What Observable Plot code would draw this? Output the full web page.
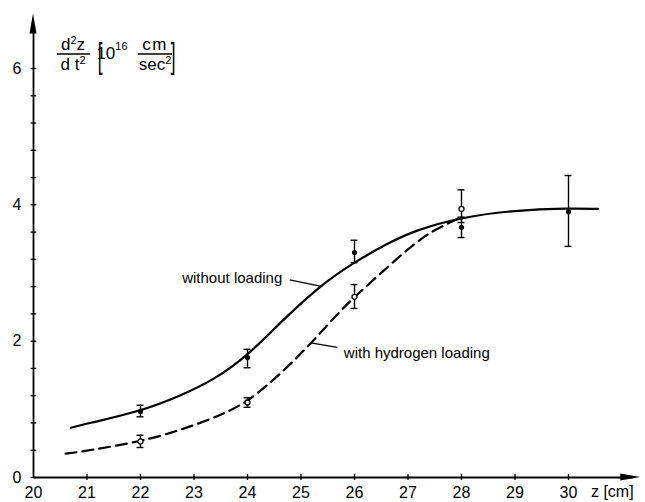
<!DOCTYPE html>
<html>
<head>
<meta charset="utf-8">
<script src="https://cdn.jsdelivr.net/npm/d3@7"></script>
<script src="https://cdn.jsdelivr.net/npm/@observablehq/plot@0.6"></script>
<style>
  body { margin: 0; background: #fff; }
  #chart svg { display: block; }
</style>
</head>
<body>
<div id="chart"></div>
<script>
// Axis ticks
const xTicks = [20, 21, 22, 23, 24, 25, 26, 27, 28, 29, 30];
const yTickLabels = [0, 2, 4, 6];
const yMinorTicks = [0, 0.4, 0.8, 1.2, 1.6, 2, 2.4, 2.8, 3.2, 3.6, 4, 4.4, 4.8, 5.2, 5.6, 6];

// Fitted curve, without loading (z in cm, d²z/dt² in 10^16 cm/sec²)
const fitPlainZ = [20.7, 21, 22, 22.75, 23.37, 24.02, 24.62, 25.36, 26, 26.61, 27.11, 28, 29, 30, 30.55];
const fitPlainA = [0.73, 0.79, 0.97, 1.20, 1.43, 1.80, 2.28, 2.82, 3.16, 3.43, 3.62, 3.82, 3.92, 3.95, 3.94];

// Fitted curve, with hydrogen loading
const fitH2Z = [20.6, 21, 22, 22.6, 23.12, 23.6, 24.02, 24.62, 25.18, 25.68, 26, 26.61, 27.11, 27.5, 27.95];
const fitH2A = [0.35, 0.39, 0.53, 0.66, 0.80, 0.95, 1.12, 1.52, 1.96, 2.40, 2.65, 3.08, 3.43, 3.64, 3.80];

// Measurements without loading (filled dots)
const plainZ  = [22, 24, 26, 28, 30];
const plainA  = [0.97, 1.76, 3.30, 3.67, 3.90];
const plainLo = [0.89, 1.61, 3.15, 3.52, 3.39];
const plainHi = [1.06, 1.88, 3.48, 3.82, 4.43];

// Measurements with hydrogen loading (open dots)
const h2Z  = [22, 24, 26, 28];
const h2A  = [0.53, 1.10, 2.65, 3.94];
const h2Lo = [0.44, 1.03, 2.48, 3.74];
const h2Hi = [0.62, 1.17, 2.83, 4.22];

const fitPlain = fitPlainZ.map((z, i) => ({z, a: fitPlainA[i]}));
const fitH2 = fitH2Z.map((z, i) => ({z, a: fitH2A[i]}));
const plain = plainZ.map((z, i) => ({z, a: plainA[i], lo: plainLo[i], hi: plainHi[i]}));
const h2 = h2Z.map((z, i) => ({z, a: h2A[i], lo: h2Lo[i], hi: h2Hi[i]}));
const allPts = plain.concat(h2);
const caps = allPts.flatMap(d => [{z: d.z, a: d.lo}, {z: d.z, a: d.hi}]);

const capHalf = 0.065;
const font = "'Liberation Sans', Arial, sans-serif";

const plot = Plot.plot({
  width: 645,
  height: 502,
  marginLeft: 33,
  marginRight: 77,
  marginTop: 68,
  marginBottom: 25,
  style: {fontFamily: font, fontSize: "16px", color: "black", background: "white"},
  x: {domain: [20, 30], ticks: xTicks, tickSize: 0, tickPadding: 9, label: null, tickFormat: d => String(d)},
  y: {domain: [0, 6], ticks: yTickLabels, tickSize: 0, tickPadding: 12, label: null, tickFormat: d => String(d)},
  marks: [
    // axis lines
    Plot.link([0], {x1: 20, y1: 0, x2: 31.2, y2: 0, stroke: "black", strokeWidth: 1.8}),
    Plot.link([0], {x1: 20, y1: 0, x2: 20, y2: 6.6, stroke: "black", strokeWidth: 1.8}),
    // tick marks crossing the axes
    Plot.ruleX(xTicks.slice(1), {x: d => d, y1: -0.045, y2: 0.045, stroke: "black", strokeWidth: 1.3}),
    Plot.ruleY(yMinorTicks, {y: d => d, x1: 19.955, x2: 20.06, stroke: "black", strokeWidth: 1.3}),
    // fitted curves (smoothed through the read-off points)
    Plot.line(fitPlain, {x: "z", y: "a", curve: "basis", stroke: "black", strokeWidth: 2.2}),
    Plot.line(fitH2, {x: "z", y: "a", curve: "basis", stroke: "black", strokeWidth: 2.2, strokeDasharray: "11,6"}),
    // error bars
    Plot.ruleX(allPts, {x: "z", y1: "lo", y2: "hi", stroke: "black", strokeWidth: 1.4}),
    Plot.ruleY(caps, {y: "a", x1: d => d.z - capHalf, x2: d => d.z + capHalf, stroke: "black", strokeWidth: 1.4}),
    // measured points
    Plot.dot(plain, {x: "z", y: "a", r: 2.6, fill: "black"}),
    Plot.dot(h2, {x: "z", y: "a", r: 2.5, fill: "white", stroke: "black", strokeWidth: 1.3}),
    // curve labels with leader lines
    Plot.text(["without loading"], {x: 24.65, y: 2.93, text: d => d, textAnchor: "end", fontSize: 15}),
    Plot.link([0], {x1: 24.79, y1: 2.90, x2: 25.40, y2: 2.80, stroke: "black", strokeWidth: 1.2}),
    Plot.text(["with hydrogen loading"], {x: 25.8, y: 1.83, text: d => d, textAnchor: "start", fontSize: 15}),
    Plot.link([0], {x1: 25.68, y1: 1.91, x2: 25.21, y2: 1.97, stroke: "black", strokeWidth: 1.2}),
    // x-axis unit
    Plot.text(["z [cm]"], {x: 30.42, y: 0, text: d => d, textAnchor: "start", dy: 14, fontSize: 16})
  ]
});

document.getElementById("chart").appendChild(plot);

// arrowheads at the ends of both axes
const sx = plot.scale("x"), sy = plot.scale("y");
const svg = d3.select(plot);
const x0 = sx.apply(20), y0 = sy.apply(0);
const xEnd = sx.apply(31.35), yEnd = sy.apply(6.8);
svg.append("path")
  .attr("d", `M${xEnd},${y0} L${xEnd - 20},${y0 - 3.5} L${xEnd - 20},${y0 + 3.5} Z`)
  .attr("fill", "black");
svg.append("path")
  .attr("d", `M${x0},${yEnd} L${x0 - 3.5},${yEnd + 20} L${x0 + 3.5},${yEnd + 20} Z`)
  .attr("fill", "black");

// quantity and unit: d²z/dt² [10^16 cm/sec²]
const t = svg.append("g").attr("font-family", font).attr("fill", "black").attr("font-size", 17);
const num = t.append("text").attr("x", 73).attr("y", 50).attr("text-anchor", "middle");
num.append("tspan").text("d");
num.append("tspan").attr("dy", -6).attr("font-size", 11).text("2");
num.append("tspan").attr("dy", 6).text("z");
t.append("line").attr("x1", 57).attr("x2", 90).attr("y1", 54).attr("y2", 54).attr("stroke", "black").attr("stroke-width", 1.3);
const den = t.append("text").attr("x", 73).attr("y", 70).attr("text-anchor", "middle");
den.append("tspan").text("d t");
den.append("tspan").attr("dy", -6).attr("font-size", 11).text("2");
// tall, thin brackets: ordinary glyphs stretched vertically
t.append("text").attr("transform", "translate(100,68) scale(1,2.1)").text("[");
t.append("text").attr("transform", "translate(173,68) scale(1,2.1)").text("]");
const pow = t.append("text").attr("x", 112).attr("y", 59);
pow.append("tspan").text("10");
pow.append("tspan").attr("dy", -9).attr("font-size", 11).text("16");
t.append("text").attr("x", 155).attr("y", 50).attr("text-anchor", "middle").attr("letter-spacing", 1.5).text("cm");
t.append("line").attr("x1", 138).attr("x2", 172).attr("y1", 54).attr("y2", 54).attr("stroke", "black").attr("stroke-width", 1.3);
const sec = t.append("text").attr("x", 155).attr("y", 70).attr("text-anchor", "middle");
sec.append("tspan").text("sec");
sec.append("tspan").attr("dy", -6).attr("font-size", 11).text("2");
</script>
</body>
</html>
